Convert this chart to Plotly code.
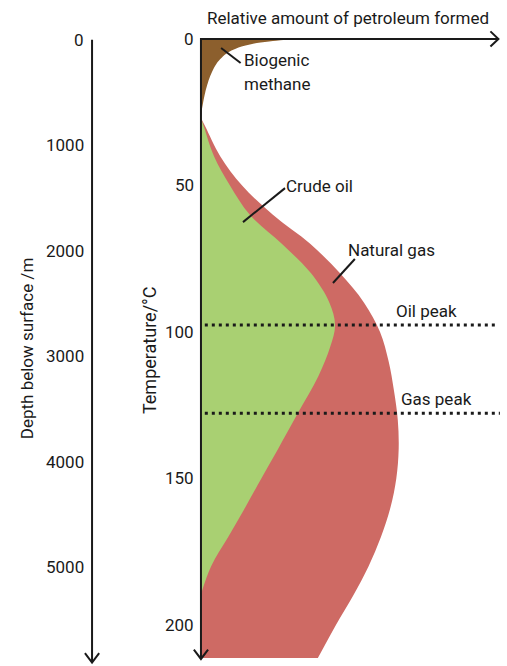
import plotly.graph_objects as go

# ---- data (amount: relative units 0-100, temp: degC) ----
methane_amount = [31.1, 24.3, 18.9, 13.2, 8.8, 5.4, 3.0, 1.4, 0.3, 0.0]
methane_temp = [0.0, 0.7, 1.4, 2.7, 4.8, 8.2, 13.0, 18.4, 24.2, 27.0]

gas_amount = [0.0, 1.5, 6.5, 13.9, 24.3, 37.0, 47.0, 55.1, 60.5, 63.4, 65.2,
              66.5, 66.8, 66.0, 64.0, 60.8, 56.6, 51.4, 45.6, 39.5]
gas_temp = [27.0, 30, 40, 50, 60, 70, 80, 90, 100, 110, 120,
            130, 140, 150, 160, 170, 180, 190, 200, 211.3]

oil_amount = [0.0, 1.0, 4.4, 9.8, 16.5, 27.4, 37.2, 43.4, 45.3, 43.7, 39.7,
              32.8, 26.0, 20.4, 14.9, 9.2, 3.4, 0.0]
oil_temp = [27.0, 30, 40, 50, 60, 70, 80, 90, 97.6, 105, 115,
            127.6, 140, 150, 160, 170, 180, 189.5]

temp_ticks = [0, 50, 100, 150, 200]
depth_ticks = [0, 1000, 2000, 3000, 4000, 5000]
oil_peak_temp = 97.6
gas_peak_temp = 127.7

BROWN = "#8c5f2d"
GREEN = "#a9d072"
RED = "#ce6a64"
INK = "#1a1a1a"
FONT = "Roboto, Liberation Sans, sans-serif"

fig = go.Figure()

fig.add_trace(go.Scatter(x=gas_amount, y=gas_temp, mode="lines",
                         line=dict(width=0, shape="spline", smoothing=1.0),
                         fill="tozerox", fillcolor=RED, hoverinfo="skip"))
fig.add_trace(go.Scatter(x=oil_amount, y=oil_temp, mode="lines",
                         line=dict(width=0, shape="spline", smoothing=1.0),
                         fill="tozerox", fillcolor=GREEN, hoverinfo="skip"))
fig.add_trace(go.Scatter(x=methane_amount, y=methane_temp, mode="lines",
                         line=dict(width=0, shape="spline", smoothing=0.8),
                         fill="tozerox", fillcolor=BROWN, hoverinfo="skip"))

# peak lines
for t, x1 in [(oil_peak_temp, 99.3), (gas_peak_temp, 101.0)]:
    fig.add_shape(type="line", xref="x", yref="y", x0=1.3, x1=x1, y0=t, y1=t,
                  line=dict(color=INK, width=3, dash="3px,4px"))

# axes lines (drawn)
AX = dict(color=INK, width=2)
depth_x = -36.8
fig.add_shape(type="line", xref="x", yref="y", x0=depth_x, x1=depth_x, y0=0.3, y1=212.8, line=AX)
fig.add_shape(type="path", xref="x", yref="y",
              path=f"M {depth_x-2.4},{212.8-3.2} L {depth_x},{212.8} L {depth_x+2.4},{212.8-3.2}", line=AX)
fig.add_shape(type="line", xref="x", yref="y", x0=0, x1=0, y0=-0.3, y1=211.6, line=AX)
fig.add_shape(type="path", xref="x", yref="y",
              path=f"M {-2.4},{211.6-3.2} L 0,211.6 L 2.4,{211.6-3.2}", line=AX)
fig.add_shape(type="line", xref="x", yref="y", x0=-0.3, x1=100.5, y0=0, y1=0, line=AX)
fig.add_shape(type="path", xref="x", yref="y",
              path="M 97.8,-2.6 L 100.5,0 L 97.8,2.6", line=AX)

# pointer lines
PL = dict(color=INK, width=2)
fig.add_shape(type="line", xref="x", yref="y", x0=6.8, y0=3.1, x1=13.4, y1=8.2, line=PL)
fig.add_shape(type="line", xref="x", yref="y", x0=14.2, y0=62.5, x1=28.4, y1=50.9, line=PL)
fig.add_shape(type="line", xref="x", yref="y", x0=44.6, y0=83.3, x1=52.0, y1=75.1, line=PL)

TF = dict(family=FONT, size=17, color=INK)

def label(text, x, y, xanchor="left", yref="y"):
    fig.add_annotation(text=text, x=x, y=y, xref="x", yref=yref, xanchor=xanchor,
                       yanchor="middle", showarrow=False, font=TF)

label("Biogenic", 14.0, 7.2)
label("methane", 14.0, 15.4)
label("Crude oil", 28.2, 50.2)
label("Natural gas", 49.1, 72.0)
label("Oil peak", 65.3, 92.8)
label("Gas peak", 67.0, 122.9)

for t in temp_ticks:
    label(str(t), -1.7, t, xanchor="right")
for d in depth_ticks:
    label(str(d), -38.9, d, xanchor="right", yref="y2")

fig.add_annotation(text="Relative amount of petroleum formed", x=0.687, y=0.973,
                   xref="paper", yref="paper", showarrow=False, font=TF,
                   xanchor="center", yanchor="middle")
fig.add_annotation(text="Depth below surface /m", x=0.053, y=0.477, textangle=-90,
                   xref="paper", yref="paper", showarrow=False, font=TF,
                   xanchor="center", yanchor="middle")
fig.add_annotation(text="Temperature/°C", x=0.296, y=0.4745, textangle=-90,
                   xref="paper", yref="paper", showarrow=False,
                   font=dict(family=FONT, size=18, color=INK),
                   xanchor="center", yanchor="middle")

fig.update_layout(
    width=507, height=666, margin=dict(l=0, r=0, t=0, b=0),
    paper_bgcolor="white", plot_bgcolor="white", showlegend=False,
    xaxis=dict(range=[-67.9, 103.4], visible=False, fixedrange=True),
    yaxis=dict(range=[214.0, -13.3], visible=False, fixedrange=True),
    yaxis2=dict(range=[5934, -379], visible=False, overlaying="y", fixedrange=True),
)
fig.add_trace(go.Scatter(x=[None], y=[None], yaxis="y2", showlegend=False))

fig.write_html("out.html", config={"displayModeBar": False},
               post_script="document.body.style.margin='0';document.body.style.overflow='hidden';")
